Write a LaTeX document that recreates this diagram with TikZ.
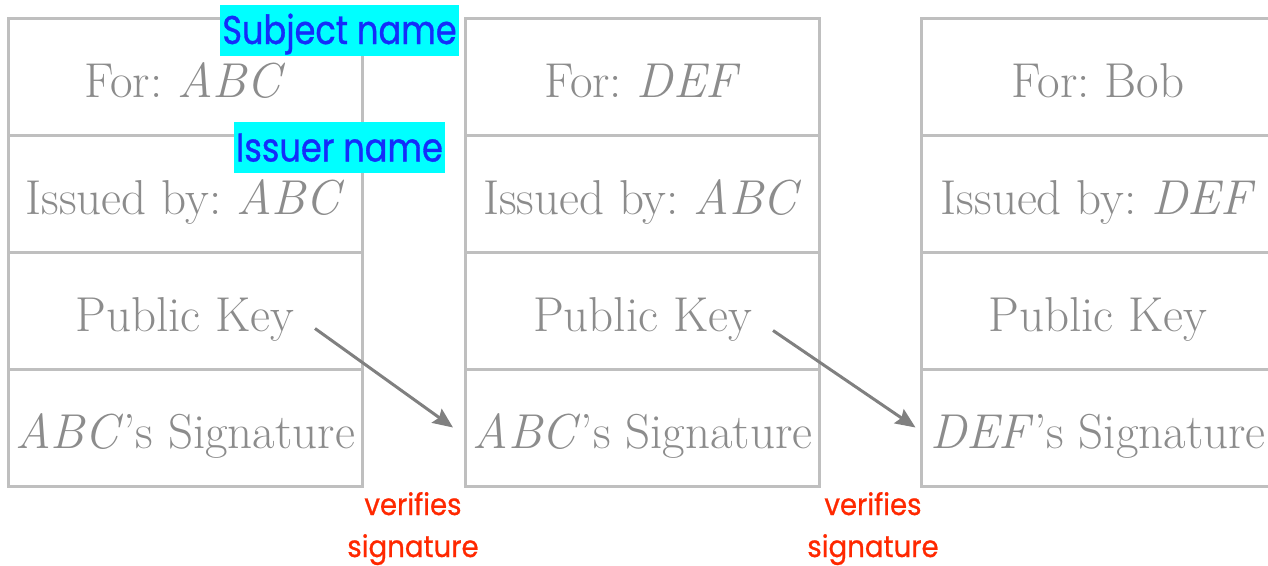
\documentclass[tikz,border=0pt]{standalone}
\usepackage{fontspec}
\newfontfamily\labelfont[FakeStretch=0.84,FakeBold=0.8]{Poppins}
\newfontfamily\notefont[FakeStretch=0.92,FakeBold=0.8]{Poppins}
\usetikzlibrary{arrows.meta,calc}
\definecolor{cellline}{RGB}{191,191,191}
\definecolor{celltext}{RGB}{140,140,140}
\definecolor{arrowgray}{RGB}{128,128,128}
\definecolor{tagbg}{RGB}{0,255,255}
\definecolor{tagtext}{RGB}{20,45,250}
\definecolor{notered}{RGB}{255,40,0}
\frenchspacing
\begin{document}
\begin{tikzpicture}[x=1pt,y=-1pt,
  cell/.style={draw=cellline,line width=3pt,minimum width=354pt,minimum height=117pt,
    inner sep=0pt,text=celltext,font=\fontsize{49}{53}\selectfont,text height=41pt,text depth=0pt},
  tag/.style={fill=tagbg,text=tagtext,inner sep=0pt,minimum height=51pt,
    font=\labelfont\fontsize{40}{44}\selectfont,text height=28pt,text depth=0pt},
  note/.style={text=notered,align=center,inner sep=0pt,font=\notefont\fontsize{30}{42}\selectfont},
  sigarrow/.style={draw=arrowgray,line width=3pt,-{Stealth[length=20pt,width=17pt,inset=3pt]}}]
\useasboundingbox (0,0) rectangle (1268,565);
\clip (0,0) rectangle (1268,565);
% certificate 1
\node[cell] (b1r1) at (185,76.5)  {For: \textit{ABC}};
\node[cell] (b1r2) at (185,193.5) {Issued by: \textit{ABC}};
\node[cell] (b1r3) at (185,310.5) {Public Key};
\node[cell] (b1r4) at (185,427.5) {\textit{ABC}'s Signature};
% certificate 2
\node[cell] (b2r1) at (642.5,76.5)  {For: \textit{DEF}};
\node[cell] (b2r2) at (642.5,193.5) {Issued by: \textit{ABC}};
\node[cell] (b2r3) at (642.5,310.5) {Public Key};
\node[cell] (b2r4) at (642.5,427.5) {\textit{ABC}'s Signature};
% certificate 3
\node[cell] (b3r1) at (1098,76.5)  {For: Bob};
\node[cell] (b3r2) at (1098,193.5) {Issued by: \textit{DEF}};
\node[cell] (b3r3) at (1098,310.5) {Public Key};
\node[cell] (b3r4) at (1098,427.5) {\textit{DEF}'s Signature};
% tags
\node[tag,minimum width=239pt] (subj) at (339.5,30) {Subject name};
\node[tag,minimum width=211pt] (iss) at (339.5,147.5) {Issuer name};
% arrows
\draw[sigarrow] ($(b1r3.center)+(130,18)$) -- ($(b2r4.west)+(-11,0)$);
\draw[sigarrow] ($(b2r3.center)+(130.5,20)$) -- ($(b3r4.west)+(-4,0)$);
% notes
\node[note,anchor=base] (note1) at (413,557) {verifies\\signature};
\node[note,anchor=base] (note2) at (873,557) {verifies\\signature};
\end{tikzpicture}
\end{document}
